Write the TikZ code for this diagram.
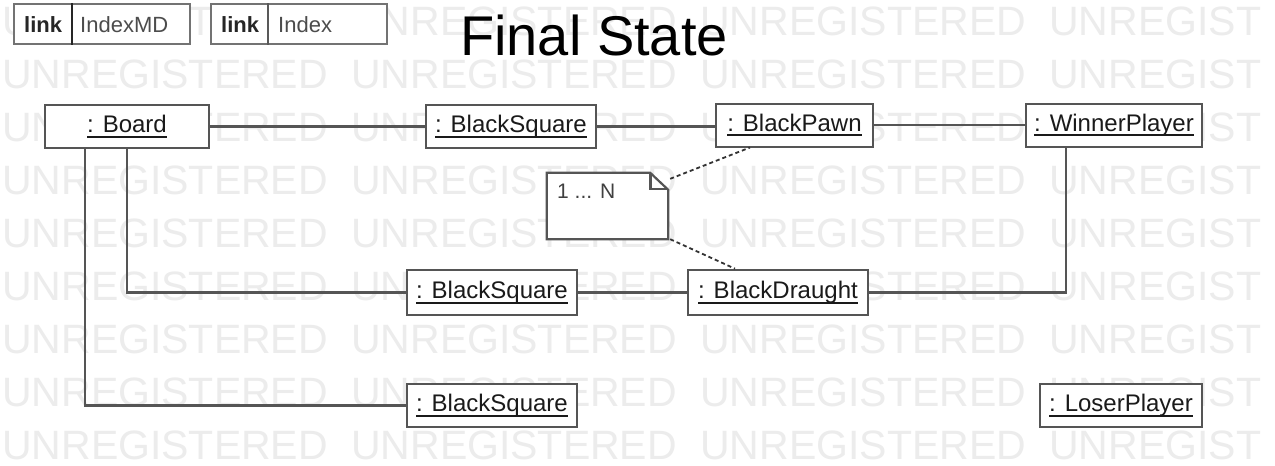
\documentclass[tikz,border=0pt]{standalone}
\usepackage{fontspec}
\setmainfont{Liberation Sans}
\usetikzlibrary{calc}
\newsavebox\ulbox
\newcommand\ulab[1]{\sbox\ulbox{#1}\rlap{\rule[-5pt]{\wd\ulbox}{1.9pt}}\usebox\ulbox}
\definecolor{wm}{gray}{0.925}
\definecolor{edge}{HTML}{555555}
\definecolor{txt}{HTML}{1A1A1A}
\begin{document}
\begin{tikzpicture}[x=1pt,y=-1pt,
  obj/.style={draw=edge, line width=2pt, fill=white, inner sep=0pt, text=txt, font=\fontsize{24}{28}\selectfont},
  conn/.style={draw=edge, line width=2.3pt},
  dotl/.style={draw=black!80, line width=1.8pt, dash pattern=on 4pt off 3pt},
  linkbox/.style={draw=black!55, line width=1.6pt, fill=white, inner sep=0pt, minimum width=176, minimum height=40, anchor=north west},
  linktxt/.style={anchor=base west, inner sep=0pt, font=\fontsize{22}{26}\selectfont},
  wmtext/.style={text=wm, font=\fontsize{41}{45}\selectfont, anchor=base west, inner sep=0pt}]
\useasboundingbox (0,0) rectangle (1275,466);
\clip (0,0) rectangle (1275,466);
\fill[white] (0,0) rectangle (1275,466);
% watermark
\foreach \j in {0,...,8}{
  \foreach \k in {0,...,2}{
    \node[wmtext] (w\j\k) at ({2+349*\k},{35+53*\j}) {UNREGISTERED};
  }
  \node[wmtext] (w\j3) at ({2+349*3},{35+53*\j}) {UNREGIST};
}
% title
\node[anchor=base, inner sep=0pt, font=\fontsize{56}{60}\selectfont, text=black] (title) at (594,55) {Final State};
% link boxes
\node[linkbox] (lk1) at (13,3) {};
\draw[black!85, line width=1.8pt] (lk1.north west) ++(59,0) coordinate (d1) -- (d1 |- lk1.south);
\node[linktxt, font=\bfseries\fontsize{22}{26}\selectfont, text=black!85] (lk1a) at (24,32) {link};
\node[linktxt, text=black!70] (lk1b) at (80,32) {IndexMD};
\node[linkbox] (lk2) at (210,3) {};
\draw[black!65, line width=1.4pt] (lk2.north west) ++(58,0) coordinate (d2) -- (d2 |- lk2.south);
\node[linktxt, font=\bfseries\fontsize{22}{26}\selectfont, text=black!85] (lk2a) at (221,32) {link};
\node[linktxt, text=black!70] (lk2b) at (278,32) {Index};
% coordinates for connector bends
\coordinate (bx1) at (85,0);
\coordinate (bx2) at (127,0);
\coordinate (wx) at (1066,0);
\coordinate (px) at (750,0);
\coordinate (dx) at (735,0);
% objects
\node[obj, minimum width=164, minimum height=43] (board) at (127,126.5) {\ulab{: Board}};
\node[obj, minimum width=170, minimum height=43] (bsq1) at (511,126.5) {\ulab{: BlackSquare}};
\node[obj, minimum width=157, minimum height=43] (pawn) at (794.5,125) {\ulab{: BlackPawn}};
\node[obj, minimum width=176, minimum height=43] (winner) at (1114,125) {\ulab{: WinnerPlayer}};
\node[obj, minimum width=170, minimum height=45, line width=2.6pt] (bsq2) at (492,292.5) {\ulab{: BlackSquare}};
\node[obj, minimum width=180, minimum height=45, line width=2.6pt] (draught) at (778,292.5) {\ulab{: BlackDraught}};
\node[obj, minimum width=170, minimum height=43, line width=2.6pt] (bsq3) at (492,405.5) {\ulab{: BlackSquare}};
\node[obj, minimum width=162, minimum height=43, line width=2.6pt] (loser) at (1121,405.5) {\ulab{: LoserPlayer}};
% note
\node[minimum width=121, minimum height=66, inner sep=0pt] (note) at (607.5,206) {};
\draw[edge, line width=2.2pt, fill=white, line join=miter]
  (note.north west) -- ($(note.north east)+(-18,0)$) -- ($(note.north east)+(0,17)$)
  -- (note.south east) -- (note.south west) -- cycle;
\draw[edge, line width=2.6pt]
  ($(note.north east)+(-18,0)$) -- ($(note.north east)+(-18,16)$) -- ($(note.north east)+(0,16)$);
\node[anchor=base west, inner sep=0pt, font=\fontsize{21}{24}\selectfont, text=black!75] (notetext) at (557,198) {1 ... N};
% connectors
\draw[conn] (board.east) -- (board.east -| bsq1.west);
\draw[conn] (bsq1.east) -- (bsq1.east -| pawn.west);
\draw[conn] (pawn.east) -- (pawn.east -| winner.west);
\draw[conn] (board.south -| bx1) |- (bsq3.west);
\draw[conn] (board.south -| bx2) |- (bsq2.west);
\draw[conn] (bsq2.east) -- (draught.west);
\draw[conn] (draught.east) -| (winner.south -| wx);
\draw[dotl] ($(note.north east)+(2,6)$) -- (pawn.south -| px);
\draw[dotl] ($(note.south east)+(2,0)$) -- (draught.north -| dx);
\end{tikzpicture}
\end{document}
